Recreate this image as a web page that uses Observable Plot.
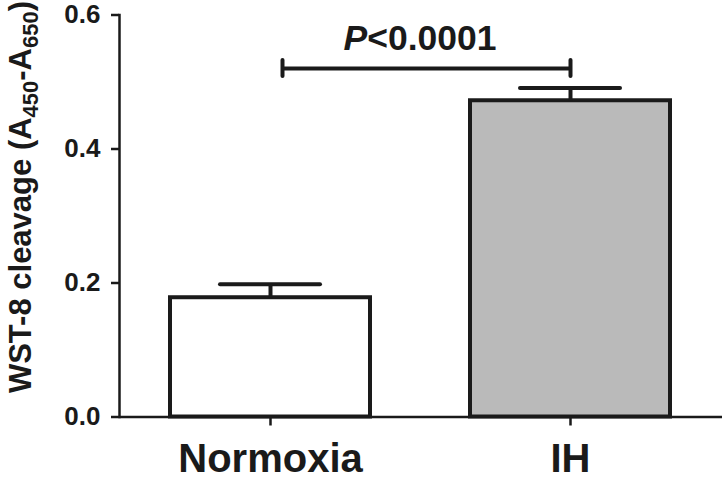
<!DOCTYPE html>
<html><head><meta charset="utf-8">
<script src="https://cdn.jsdelivr.net/npm/d3@7"></script>
<script src="https://cdn.jsdelivr.net/npm/@observablehq/plot@0.6"></script>
<style>body{margin:0;background:#fff} svg{font-family:"Liberation Sans",Arial,sans-serif}</style>
</head><body><div id="chart"></div>
<script>
const categories = ["Normoxia", "IH"];
const means = [0.178, 0.472];
const sems = [0.020, 0.019];
const fills = ["#ffffff", "#bababa"];
const yTicks = [0, 0.2, 0.4, 0.6];
const pLabel = "P<0.0001";
const bracketY = 0.520;

const data = categories.map((c, i) => ({group: c, mean: means[i], top: means[i] + sems[i], fill: fills[i]}));
const ink = "#1a1a1a";
const plot = Plot.plot({
  width: 722, height: 487,
  marginLeft: 119, marginRight: 0, marginTop: 14.5, marginBottom: 70.5,
  style: {fontFamily: "'Liberation Sans', Arial, sans-serif", background: "white", color: ink},
  x: {domain: categories, range: [169.5, 671.5], paddingInner: 0.332, paddingOuter: 0, axis: null},
  y: {domain: [0, 0.6], axis: null},
  marks: [
    Plot.barY(data, {x: "group", y: "mean", fill: "fill", stroke: ink, strokeWidth: 4}),
    Plot.ruleX(data, {x: "group", y1: "mean", y2: "top", stroke: ink, strokeWidth: 4}),
    Plot.tickY(data, {x: "group", y: "top", stroke: ink, strokeWidth: 4, strokeLinecap: "round", insetLeft: 50, insetRight: 50}),
    Plot.ruleY([0], {stroke: ink, strokeWidth: 2.5}),
    Plot.frame({anchor: "left", stroke: ink, strokeWidth: 2.5}),
    Plot.axisY({ticks: yTicks, tickFormat: d3.format(".1f"), tickSize: 8, tickPadding: 11, fontSize: 26, fontWeight: "bold", stroke: ink, strokeWidth: 2.5, label: null}),
    Plot.axisX({tickSize: 9, tickPadding: 18, fontSize: 40, fontWeight: "bold", stroke: ink, strokeWidth: 2.5, label: null}),
    Plot.ruleY([bracketY], {x1: () => categories[0], x2: () => categories[1], insetLeft: 112, insetRight: 100, stroke: ink, strokeWidth: 4}),
    Plot.ruleX([categories[0]], {x: d => d, dx: 12, y1: bracketY, y2: bracketY, insetTop: -8, insetBottom: -8, stroke: ink, strokeWidth: 4, strokeLinecap: "round"}),
    Plot.ruleX([categories[1]], {x: d => d, y1: bracketY, y2: bracketY, insetTop: -8, insetBottom: -8, stroke: ink, strokeWidth: 4, strokeLinecap: "round"})
  ]
});
document.getElementById("chart").append(plot);

const xs = plot.scale("x"), ys = plot.scale("y");
const svg = d3.select(plot);
const cx = (xs.apply(categories[0]) + xs.apply(categories[1])) / 2 + xs.bandwidth / 2;
const pt = svg.append("text")
  .attr("x", cx).attr("y", ys.apply(bracketY) - 18)
  .attr("text-anchor", "middle").attr("font-size", 35.5).attr("font-weight", "bold").attr("fill", ink);
pt.append("tspan").attr("font-style", "italic").text(pLabel.slice(0, 1));
pt.append("tspan").text(pLabel.slice(1));

const title = svg.append("text")
  .attr("transform", `translate(31,197) rotate(-90)`)
  .attr("text-anchor", "middle").attr("font-size", 31).attr("font-weight", "bold").attr("fill", ink);
title.append("tspan").text("WST-8 cleavage (A");
title.append("tspan").attr("font-size", 22).attr("dy", 7).text("450");
title.append("tspan").attr("dy", -7).text("-A");
title.append("tspan").attr("font-size", 22).attr("dy", 7).text("650");
title.append("tspan").attr("dy", -7).text(")");
</script></body></html>
